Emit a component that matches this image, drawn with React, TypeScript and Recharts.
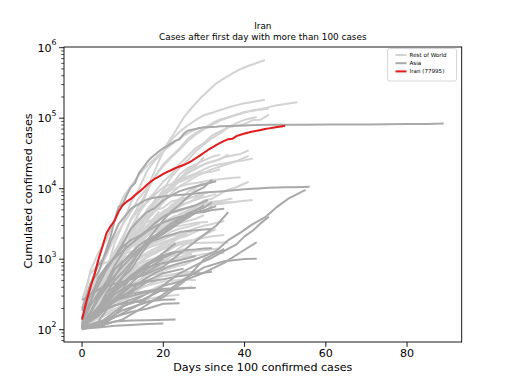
import React from 'react';
import { LineChart, Line, XAxis, YAxis } from 'recharts';

type Pt = [number, number];

// ---------- Rest of World ----------
const unitedStates: Pt[] = [[0,100],[1,122],[3,217],[5,402],[7,589],[9,1301],[11,2179],[13,3499],[15,6421],[17,13677],[19,25489],[21,43847],[23,65778],[25,101657],[27,140886],[29,188172],[31,243453],[33,311357],[35,366614],[37,432438],[39,496535],[41,555313],[43,607670],[45,667801]];
const italy: Pt[] = [[0,155],[2,322],[4,655],[6,1128],[8,2036],[10,3089],[12,4636],[14,7375],[16,10149],[18,15113],[20,21157],[22,27980],[24,35713],[26,47021],[28,59138],[30,69176],[32,80589],[34,92472],[36,101739],[38,110574],[40,119827],[42,128948],[44,135586],[46,143626],[48,152271],[50,159516],[53,168941]];
const spain: Pt[] = [[0,120],[2,222],[4,400],[6,673],[8,1695],[10,3146],[12,6391],[14,9942],[16,17963],[18,25374],[20,33089],[22,49515],[24,64059],[26,78797],[28,94417],[30,110238],[32,119199],[34,130759],[36,141942],[38,153222],[40,163027],[42,170099],[45,182816]];
const germany: Pt[] = [[0,130],[2,196],[4,482],[6,799],[8,1176],[10,1908],[12,3675],[14,5795],[16,9257],[18,15320],[20,22213],[22,29056],[24,37323],[26,50871],[28,62095],[30,71808],[32,84794],[34,96092],[36,103374],[38,113296],[40,122171],[42,127854],[44,131359],[46,137698]];
const france: Pt[] = [[0,100],[2,191],[4,285],[6,656],[8,1126],[10,1787],[12,2281],[14,4480],[16,6650],[18,9052],[20,12612],[22,16018],[24,22304],[26,29155],[28,37575],[30,44550],[32,56989],[34,65202],[36,74390],[38,78167],[40,83080],[42,93790],[44,95403],[46,112000]];
const unitedKingdom: Pt[] = [[0,116],[2,207],[4,322],[6,459],[8,802],[10,1145],[12,1960],[14,2716],[16,5067],[18,6726],[20,9640],[22,14745],[24,19780],[26,25481],[28,34173],[30,42477],[32,52279],[34,61474],[36,74605],[38,85206],[40,94845],[43,104145]];
const turkey: Pt[] = [[0,191],[2,670],[4,1236],[6,1872],[8,3629],[10,7402],[12,10827],[14,15679],[16,20921],[18,27069],[20,34109],[22,42282],[24,52167],[26,61049],[28,69392],[29,74193]];
const belgium: Pt[] = [[0,109],[3,239],[5,314],[7,559],[9,886],[11,1486],[13,2257],[15,3401],[17,4937],[19,7284],[21,9134],[23,12775],[25,15348],[27,18431],[29,20814],[31,23403],[33,24983],[35,28018],[37,29647],[39,31119],[41,34809]];
const netherlands: Pt[] = [[0,128],[2,265],[4,382],[6,614],[8,804],[10,1135],[12,1705],[14,2460],[16,3631],[18,4764],[20,6412],[22,8603],[24,10866],[26,12595],[28,14788],[30,16727],[32,18926],[34,20682],[36,22294],[38,24571],[41,29214]];
const switzerland: Pt[] = [[0,114],[2,268],[4,337],[6,491],[8,652],[10,1139],[12,2200],[14,2700],[16,4222],[18,6575],[20,8060],[22,9877],[24,12928],[26,14829],[28,16605],[30,18827],[32,21100],[34,22242],[36,23280],[38,24551],[40,25415],[42,26732]];
const canada: Pt[] = [[0,108],[2,193],[4,252],[6,478],[8,800],[10,1277],[12,2091],[14,3251],[16,4757],[18,6280],[20,8527],[22,11284],[24,12978],[26,16563],[28,19141],[30,22059],[32,24299],[34,26163],[36,30808]];
const brazil: Pt[] = [[0,151],[2,200],[4,321],[6,621],[8,1021],[10,1593],[12,2554],[14,3417],[16,4579],[18,6836],[20,9056],[22,11130],[24,15927],[26,19638],[28,22192],[30,25262],[32,28320],[34,30425]];
const russia: Pt[] = [[0,114],[2,199],[4,306],[6,438],[8,658],[10,1036],[12,1534],[14,2337],[16,3548],[18,5389],[20,7497],[22,10131],[24,13584],[26,18328],[28,21102],[30,27938]];
const portugal: Pt[] = [[0,112],[2,245],[4,448],[6,785],[8,1280],[10,2060],[12,3544],[14,5170],[16,6408],[18,8251],[20,10524],[22,11730],[24,12442],[26,13956],[28,15987],[30,16934],[32,17448],[34,18841]];
const austria: Pt[] = [[0,104],[2,182],[4,302],[6,655],[8,1018],[10,1646],[12,2388],[14,3582],[16,4876],[18,7029],[20,8271],[22,9618],[24,10711],[26,11524],[28,12051],[30,12639],[32,13244],[34,13560],[36,14041],[39,14476]];
const sweden: Pt[] = [[0,137],[2,203],[4,326],[6,620],[8,961],[10,1040],[12,1167],[14,1301],[16,1623],[18,1934],[20,2299],[22,2806],[24,3447],[26,4435],[28,5568],[30,6830],[32,7206],[34,8419],[36,9685],[38,10483],[41,12540]];
const ireland: Pt[] = [[0,129],[2,223],[4,366],[6,683],[8,1125],[10,1564],[12,2415],[14,3235],[16,3849],[18,4994],[20,5364],[22,6574],[24,7054],[26,8928],[28,10647],[30,11479],[33,13271]];
const peru: Pt[] = [[0,117],[2,234],[4,318],[6,395],[8,580],[10,852],[12,1065],[14,1414],[16,2281],[18,2954],[20,4342],[22,5897],[24,6848],[26,7519],[28,10303],[30,12491]];
const chile: Pt[] = [[0,155],[2,238],[4,434],[6,632],[8,922],[10,1306],[12,1909],[14,2449],[16,3031],[18,3737],[20,4815],[22,5546],[24,6501],[26,7213],[28,7917],[31,8807]];
const ecuador: Pt[] = [[0,155],[2,199],[4,426],[6,789],[8,1211],[10,1823],[12,2302],[14,3163],[16,3368],[18,3747],[20,4450],[22,5065],[24,7257],[26,7466],[28,7603],[30,8225]];
const poland: Pt[] = [[0,111],[2,177],[4,287],[6,425],[8,749],[10,1051],[12,1638],[14,2215],[16,2554],[18,3383],[20,4102],[22,4848],[24,5575],[26,6356],[28,6934],[30,7582],[33,8379]];
const romania: Pt[] = [[0,184],[2,277],[4,367],[6,576],[8,906],[10,1292],[12,1815],[14,2245],[16,2738],[18,3613],[20,4417],[22,5202],[24,5990],[26,6300],[28,7216],[30,8067]];
const denmark: Pt[] = [[0,264],[2,617],[4,827],[6,898],[8,1057],[10,1225],[12,1460],[14,1877],[16,2200],[18,2577],[20,3107],[22,3573],[24,4369],[26,4875],[28,5597],[30,6191],[32,6511],[34,6681],[37,7242]];
const norway: Pt[] = [[0,108],[2,169],[4,400],[6,598],[8,1090],[10,1256],[12,1552],[14,1877],[16,2385],[18,2866],[20,3369],[22,3845],[24,4284],[26,4665],[28,5208],[30,5550],[32,5865],[34,6086],[36,6314],[38,6525],[40,6740],[42,6937]];
const australia: Pt[] = [[0,107],[2,128],[4,200],[6,297],[8,377],[10,709],[12,1072],[14,1709],[16,2364],[18,3116],[20,3966],[22,4559],[24,4976],[26,5454],[28,5795],[30,6052],[32,6238],[34,6315],[37,6468]];
const czechia: Pt[] = [[0,141],[2,253],[4,383],[6,522],[8,995],[10,1236],[12,1654],[14,2279],[16,2817],[18,3330],[20,3858],[22,4472],[24,4822],[26,5335],[28,5732],[30,5991],[32,6216],[34,6433]];
const mexico: Pt[] = [[0,118],[2,203],[4,316],[6,367],[8,475],[10,717],[12,993],[14,1378],[16,1890],[18,2143],[20,2785],[22,3181],[24,3844],[26,4661],[28,5399],[29,6297]];
const serbia: Pt[] = [[0,103],[2,222],[4,303],[6,457],[8,741],[10,900],[12,1171],[14,1624],[16,2200],[18,2447],[20,2867],[22,3380],[24,4054],[26,4873],[28,5318]];
const dominicanRepublic: Pt[] = [[0,112],[2,245],[4,392],[6,581],[8,901],[10,1284],[12,1488],[14,1828],[16,2111],[18,2620],[20,3167],[22,3614],[24,3755],[26,4335]];
const panama: Pt[] = [[0,109],[2,200],[4,313],[6,443],[8,558],[10,901],[12,1075],[14,1317],[16,1673],[18,1988],[20,2528],[22,2974],[24,3234],[26,3472],[28,3751],[30,4210]];
const belarus: Pt[] = [[0,152],[2,163],[4,304],[6,440],[8,700],[10,861],[12,1066],[14,1981],[16,2919],[19,4779]];
const ukraine: Pt[] = [[0,113],[2,218],[4,356],[6,549],[8,794],[10,1096],[12,1462],[14,1892],[16,2203],[18,2777],[20,3372],[23,4161]];
const finland: Pt[] = [[0,109],[2,210],[4,272],[6,400],[8,521],[10,700],[12,880],[14,1041],[16,1240],[18,1418],[20,1615],[22,1927],[24,2176],[26,2487],[28,2769],[30,2974],[32,3161],[35,3489]];
const colombia: Pt[] = [[0,102],[2,196],[4,306],[6,470],[8,608],[10,798],[12,1065],[14,1267],[16,1485],[18,1780],[20,2054],[22,2473],[24,2709],[26,2852],[29,3233]];
const egypt: Pt[] = [[0,110],[2,150],[4,196],[6,256],[8,294],[10,366],[12,456],[14,576],[16,656],[18,779],[20,985],[22,1173],[24,1450],[26,1699],[28,1939],[30,2190],[33,2673]];
const southAfrica: Pt[] = [[0,116],[2,202],[4,274],[6,554],[8,927],[10,1170],[12,1280],[14,1353],[16,1462],[18,1585],[20,1686],[22,1845],[24,2003],[26,2173],[29,2605]];
const argentina: Pt[] = [[0,128],[2,225],[4,301],[6,502],[8,690],[10,820],[12,1054],[14,1353],[16,1554],[18,1715],[20,1894],[22,2142],[24,2277],[27,2443]];
const greece: Pt[] = [[0,117],[2,228],[4,331],[6,418],[8,495],[10,624],[12,743],[14,892],[16,1061],[18,1212],[20,1415],[22,1613],[24,1735],[26,1832],[28,1884],[30,2011],[32,2114],[35,2207]];
const iceland: Pt[] = [[0,103],[2,134],[4,171],[6,225],[8,330],[10,473],[12,648],[14,890],[16,1086],[18,1220],[20,1417],[22,1562],[24,1616],[26,1675],[28,1701],[30,1711],[33,1720],[36,1727]];
const slovenia: Pt[] = [[0,141],[2,219],[4,253],[6,275],[8,341],[10,414],[12,528],[14,632],[16,756],[18,841],[20,934],[22,997],[24,1059],[26,1091],[28,1124],[30,1188],[32,1212],[35,1220]];
const estonia: Pt[] = [[0,135],[2,205],[4,267],[6,283],[8,326],[10,369],[12,538],[14,679],[16,715],[18,779],[20,961],[22,1097],[24,1185],[26,1258],[28,1309],[30,1342],[34,1434]];
const luxembourg: Pt[] = [[0,140],[2,335],[4,484],[6,798],[8,1099],[10,1453],[12,1831],[14,1988],[16,2319],[18,2487],[20,2729],[22,2843],[24,2970],[26,3115],[28,3281],[31,3373]];
const newZealand: Pt[] = [[0,102],[2,155],[4,205],[6,368],[8,451],[10,589],[12,708],[14,868],[16,950],[18,1039],[20,1160],[22,1239],[25,1401]];
const hungary: Pt[] = [[0,131],[2,187],[4,261],[6,343],[8,447],[10,525],[12,623],[14,744],[16,895],[18,980],[20,1190],[22,1410],[25,1763]];
const croatia: Pt[] = [[0,105],[4,235],[8,495],[12,867],[16,1182],[20,1407],[24,1650],[27,1791]];
const morocco: Pt[] = [[0,115],[4,225],[8,479],[12,708],[16,1120],[20,1448],[24,2024],[26,2564]];
const algeria: Pt[] = [[0,139],[4,302],[8,511],[12,986],[16,1423],[20,1761],[24,2070],[26,2268]];
const cameroon: Pt[] = [[0,113],[5,193],[10,509],[15,730],[20,848],[25,1017]];
const senegal: Pt[] = [[0,105],[5,162],[10,222],[15,265],[20,299],[24,314]];
const ghana: Pt[] = [[0,132],[5,152],[10,214],[15,566],[20,641]];
const nigeria: Pt[] = [[0,111],[4,174],[8,238],[12,288],[16,343],[20,442]];
const costaRica: Pt[] = [[0,113],[5,231],[10,347],[15,483],[20,577],[25,612],[29,642]];
const uruguay: Pt[] = [[0,110],[5,217],[10,338],[15,406],[20,483],[25,517],[28,502]];
const bolivia: Pt[] = [[0,107],[5,157],[10,268],[15,400],[19,520]];
const lithuania: Pt[] = [[0,105],[5,299],[10,537],[15,843],[20,1070],[25,1239],[28,1298]];
const slovakia: Pt[] = [[0,105],[5,204],[10,336],[15,534],[20,715],[25,835],[29,1049]];
const latvia: Pt[] = [[0,111],[5,197],[10,347],[15,458],[20,577],[25,651],[29,675]];
const bosnia: Pt[] = [[0,126],[5,258],[10,459],[15,674],[20,901],[25,1110],[27,1214]];
const moldova: Pt[] = [[0,109],[5,231],[10,505],[15,965],[20,1560],[25,2378]];
const northMacedonia: Pt[] = [[0,114],[5,219],[10,354],[15,555],[20,854],[25,1117],[27,1207]];
const tunisia: Pt[] = [[0,114],[5,312],[10,455],[15,596],[20,685],[23,780]];

// ---------- Asia ----------
const china: Pt[] = [[0,200],[1,290],[2,440],[3,548],[4,643],[5,920],[6,1406],[7,2075],[8,3500],[9,5509],[10,6087],[11,8141],[12,10500],[13,11891],[14,16630],[15,19716],[16,23707],[17,27440],[18,30587],[19,34110],[20,37500],[21,40500],[22,44000],[23,48000],[24,50000],[25,59895],[26,66358],[27,68413],[28,70513],[29,72434],[30,74211],[31,74619],[32,75077],[33,75550],[34,77001],[37,77779],[40,78631],[43,80026],[46,80735],[50,80904],[55,81003],[60,81250],[65,81439],[70,81620],[75,81999],[80,82602],[85,83005],[89,83760]];
const korea: Pt[] = [[0,104],[1,204],[2,433],[3,602],[4,833],[5,977],[6,1261],[7,1766],[8,2337],[9,3150],[10,3736],[11,4335],[12,5186],[13,5621],[14,6088],[15,6593],[16,7041],[17,7314],[18,7478],[20,7755],[22,7979],[24,8162],[26,8320],[28,8565],[30,8799],[32,8961],[34,9137],[36,9332],[38,9583],[40,9786],[42,9976],[44,10156],[46,10284],[48,10384],[50,10450],[52,10512],[54,10564],[56,10635]];
const japan: Pt[] = [[0,105],[3,170],[6,210],[9,274],[12,360],[15,502],[18,639],[21,773],[24,878],[27,963],[30,1101],[33,1307],[36,1866],[39,2384],[42,3139],[45,3906],[48,5530],[51,7370],[55,9600]];
const singapore: Pt[] = [[0,106],[4,117],[9,160],[14,226],[19,385],[24,631],[29,879],[32,1049],[35,1309],[38,1623],[40,2108],[42,2532],[44,3252],[46,4000]];
const hongKong: Pt[] = [[0,105],[5,115],[10,140],[15,208],[20,317],[25,518],[30,765],[35,935],[40,1005],[43,1017]];
const bahrain: Pt[] = [[0,109],[5,110],[10,210],[15,305],[20,419],[25,499],[30,643],[35,887],[40,1361],[43,1740]];
const kuwait: Pt[] = [[0,100],[5,130],[10,189],[15,235],[20,289],[25,479],[30,993],[35,1405]];
const qatar: Pt[] = [[0,262],[5,401],[10,481],[15,590],[20,781],[25,1325],[30,2210],[33,2979],[36,4663]];
const israel: Pt[] = [[0,143],[2,250],[4,427],[6,705],[8,1071],[10,1656],[12,2693],[14,3619],[16,4695],[18,5358],[20,6857],[22,8018],[24,9248],[26,9968],[28,10743],[30,11586],[33,12758]];
const india: Pt[] = [[0,107],[2,137],[4,194],[6,330],[8,499],[10,657],[12,887],[14,1251],[16,1834],[18,2567],[20,3588],[22,4778],[24,5916],[26,7600],[28,9205],[30,10453],[32,13430]];
const pakistan: Pt[] = [[0,187],[2,301],[4,495],[6,776],[8,1063],[10,1495],[12,1865],[14,2118],[16,2547],[18,3277],[20,4004],[22,4601],[24,5038],[26,5374],[28,5837],[31,6919]];
const saudiArabia: Pt[] = [[0,103],[2,171],[4,274],[6,392],[8,562],[10,900],[12,1203],[14,1563],[16,1885],[18,2179],[20,2605],[22,2932],[24,3651],[26,4462],[28,4934],[30,5369],[32,6380]];
const uae: Pt[] = [[0,113],[2,153],[4,198],[6,333],[8,405],[10,570],[12,814],[14,1264],[16,1799],[18,2076],[20,2359],[22,2990],[24,3360],[26,4123],[28,4933],[30,5825]];
const malaysia: Pt[] = [[0,149],[2,238],[4,553],[6,790],[8,1030],[10,1306],[12,1624],[14,2031],[16,2470],[18,2908],[20,3333],[22,3662],[24,3963],[26,4228],[28,4530],[30,4683],[32,4987],[35,5182]];
const indonesia: Pt[] = [[0,117],[2,172],[4,309],[6,450],[8,579],[10,790],[12,1046],[14,1285],[16,1677],[18,1986],[20,2273],[22,2738],[24,3293],[26,3842],[28,4557],[30,4839],[32,5516]];
const philippines: Pt[] = [[0,111],[2,142],[4,202],[6,230],[8,380],[10,552],[12,707],[14,1075],[16,1546],[18,2084],[20,2633],[22,3246],[24,3764],[26,4076],[28,4648],[30,4932],[33,5660]];
const thailand: Pt[] = [[0,114],[2,177],[4,272],[6,411],[8,721],[10,934],[12,1136],[14,1388],[16,1651],[18,1875],[20,2067],[22,2220],[24,2423],[26,2518],[28,2579],[30,2643],[32,2672]];
const iraq: Pt[] = [[0,110],[2,154],[4,192],[6,233],[8,316],[10,382],[12,547],[14,694],[16,820],[18,961],[20,1122],[22,1232],[24,1279],[26,1352],[28,1378],[30,1415],[32,1434]];
const lebanon: Pt[] = [[0,110],[4,157],[8,267],[12,412],[16,479],[20,520],[24,575],[28,619],[32,663]];
const taiwan: Pt[] = [[0,108],[4,169],[8,252],[12,322],[16,355],[20,380],[24,388],[28,395]];
const vietnam: Pt[] = [[0,123],[4,174],[8,222],[12,245],[16,251],[20,265],[23,268]];
const sriLanka: Pt[] = [[0,102],[4,113],[8,151],[12,178],[16,198],[20,233],[24,238]];
const bangladesh: Pt[] = [[0,123],[2,218],[4,330],[6,482],[8,803],[10,1231],[11,1572]];
const afghanistan: Pt[] = [[0,110],[3,174],[6,299],[9,423],[12,521],[15,607],[19,840]];
const armenia: Pt[] = [[0,115],[4,194],[8,372],[12,532],[16,770],[20,881],[24,967],[28,1111]];
const azerbaijan: Pt[] = [[0,122],[4,209],[8,359],[12,584],[16,822],[20,1058],[23,1253]];
const kazakhstan: Pt[] = [[0,100],[4,204],[8,348],[12,531],[16,812],[20,1232],[23,1676]];
const uzbekistan: Pt[] = [[0,104],[4,181],[8,342],[12,582],[16,865],[20,1165]];
const oman: Pt[] = [[0,109],[4,192],[8,277],[12,457],[16,727],[20,1019]];
const jordan: Pt[] = [[0,112],[4,172],[8,259],[12,299],[16,345],[20,358],[24,381],[27,397]];
const cyprus: Pt[] = [[0,116],[4,162],[8,262],[12,426],[16,494],[20,633],[25,735]];
const brunei: Pt[] = [[0,104],[4,115],[8,131],[12,135],[16,136],[23,140]];
const cambodia: Pt[] = [[0,103],[4,107],[8,114],[12,117],[16,120],[20,122]];
const kyrgyzstan: Pt[] = [[0,107],[4,130],[8,280],[12,339],[17,516]];
const georgia: Pt[] = [[0,110],[5,188],[10,242],[15,306]];
const palestine: Pt[] = [[0,104],[5,134],[10,217],[15,268],[20,374]];

// ---------- Iran ----------
const iran: Pt[] = [[0,139],[1,245],[2,388],[3,593],[4,978],[5,1501],[6,2336],[7,2922],[8,3513],[9,4747],[10,5823],[11,6566],[12,7161],[13,8042],[14,9000],[15,10075],[16,11364],[17,12729],[18,13938],[19,14991],[20,16169],[21,17361],[22,18407],[23,19644],[24,20610],[25,21638],[26,23049],[27,24811],[28,27017],[29,29406],[30,32332],[31,35408],[32,38309],[33,41495],[34,44605],[35,47593],[36,50468],[37,50900],[38,55743],[39,58226],[40,60500],[41,62589],[42,64586],[43,66220],[44,68192],[45,70029],[46,71686],[47,73303],[48,74877],[49,76389],[50,77995]];

const restOfWorld: Pt[][] = [unitedStates, italy, spain, germany, france, unitedKingdom, turkey, belgium, netherlands, switzerland, canada, brazil, russia, portugal, austria, sweden, ireland, peru, chile, ecuador, poland, romania, denmark, norway, australia, czechia, mexico, serbia, dominicanRepublic, panama, belarus, ukraine, finland, colombia, egypt, southAfrica, argentina, greece, iceland, slovenia, estonia, luxembourg, newZealand, hungary, croatia, morocco, algeria, cameroon, senegal, ghana, nigeria, costaRica, uruguay, bolivia, lithuania, slovakia, latvia, bosnia, moldova, northMacedonia, tunisia];
const asia: Pt[][] = [china, korea, japan, singapore, hongKong, bahrain, kuwait, qatar, israel, india, pakistan, saudiArabia, uae, malaysia, indonesia, philippines, thailand, iraq, lebanon, taiwan, vietnam, sriLanka, bangladesh, afghanistan, armenia, azerbaijan, kazakhstan, uzbekistan, oman, jordan, cyprus, brunei, cambodia, kyrgyzstan, georgia, palestine];

const legendLabels = ['Rest of World', 'Asia', 'Iran (77995)'];
const titleLines = ['Iran', 'Cases after first day with more than 100 cases'];
const xTicks = [0, 20, 40, 60, 80];
const yMajor = [100, 1000, 10000, 100000, 1000000];
const yMinor = [70, 80, 90, 200, 300, 400, 500, 600, 700, 800, 900, 2000, 3000, 4000, 5000, 6000, 7000, 8000, 9000, 20000, 30000, 40000, 50000, 60000, 70000, 80000, 90000, 200000, 300000, 400000, 500000, 600000, 700000, 800000, 900000];

const ROW_COLOR = '#d3d3d3';
const ASIA_COLOR = '#a9a9a9';
const IRAN_COLOR = '#e41a1c';
const FONT = 'DejaVu Sans, sans-serif';

const toRows = (pts: Pt[]) => pts.map(([d, v]) => ({ d, v }));

const majorSet = new Set(yMajor);

const renderYTick = (props: any) => {
  const { x, y, payload } = props;
  const v = payload.value;
  const major = majorSet.has(v);
  const exp = Math.round(Math.log10(v));
  return (
    <g key={'yt' + v}>
      <line x1={x - (major ? 4.9 : 2.8)} x2={x} y1={y} y2={y} stroke="#000" strokeWidth={major ? 0.9 : 0.7} />
      {major && (
        <text x={x - 7.5} y={y + 4} textAnchor="end" fontSize={11.1} fontFamily={FONT} fill="#000">
          10<tspan dy={-6.5} fontSize={7.8}>{exp}</tspan>
        </text>
      )}
    </g>
  );
};

const renderXTick = (props: any) => {
  const { x, y, payload } = props;
  return (
    <g key={'xt' + payload.value}>
      <line x1={x} x2={x} y1={y} y2={y + 4.9} stroke="#000" strokeWidth={0.9} />
      <text x={x} y={y + 15} textAnchor="middle" fontSize={11.1} fontFamily={FONT} fill="#000">{payload.value}</text>
    </g>
  );
};

const PLOT = { left: 64, top: 47, right: 461.7, bottom: 342 };
const Y_AXIS_W = 60;
const X_AXIS_H = 30;

export default function App() {
  const w = 512, h = 384;
  return (
    <div style={{ position: 'absolute', left: 0, top: 0, width: w, height: h, background: '#fff' }}>
      <LineChart
        width={w}
        height={h}
        margin={{ top: PLOT.top, left: PLOT.left - Y_AXIS_W, right: w - PLOT.right, bottom: h - PLOT.bottom - X_AXIS_H }}
      >
        <XAxis
          type="number"
          dataKey="d"
          domain={[-4.45, 93.45]}
          allowDataOverflow
          ticks={xTicks}
          interval={0}
          height={X_AXIS_H}
          tickSize={0}
          tickMargin={0}
          axisLine={false}
          tickLine={false}
          tick={renderXTick}
        />
        <YAxis
          type="number"
          dataKey="v"
          scale="log"
          domain={[66.9, 1023000]}
          allowDataOverflow
          ticks={[...yMinor, ...yMajor].sort((a, b) => a - b)}
          interval={0}
          width={Y_AXIS_W}
          tickSize={0}
          tickMargin={0}
          axisLine={false}
          tickLine={false}
          tick={renderYTick}
        />
        {restOfWorld.map((s, i) => (
          <Line key={'r' + i} data={toRows(s)} dataKey="v" type="linear" stroke={ROW_COLOR} strokeWidth={2} dot={false} activeDot={false} isAnimationActive={false} strokeLinejoin="round" />
        ))}
        {asia.map((s, i) => (
          <Line key={'a' + i} data={toRows(s)} dataKey="v" type="linear" stroke={ASIA_COLOR} strokeWidth={2} dot={false} activeDot={false} isAnimationActive={false} strokeLinejoin="round" />
        ))}
        <Line key="iran" data={toRows(iran)} dataKey="v" type="linear" stroke={IRAN_COLOR} strokeWidth={2} dot={false} activeDot={false} isAnimationActive={false} strokeLinejoin="round" />
      </LineChart>
      <svg width={w} height={h} style={{ position: 'absolute', left: 0, top: 0, pointerEvents: 'none' }}>
        <rect x={PLOT.left} y={PLOT.top} width={PLOT.right - PLOT.left} height={PLOT.bottom - PLOT.top} fill="none" stroke="#000" strokeWidth={0.9} />
        <text x={262.8} y={29.3} textAnchor="middle" fontSize={8.9} fontFamily={FONT}>{titleLines[0]}</text>
        <text x={262.8} y={39.5} textAnchor="middle" fontSize={8.9} fontFamily={FONT}>{titleLines[1]}</text>
        <text x={262.8} y={371} textAnchor="middle" fontSize={11.1} fontFamily={FONT}>Days since 100 confirmed cases</text>
        <text transform="translate(32,191) rotate(-90)" textAnchor="middle" fontSize={11.1} fontFamily={FONT}>Cumulated confirmed cases</text>
        <rect x={387.5} y={48.5} width={69} height={32.5} rx={2} fill="#fff" fillOpacity={0.8} stroke="#cccccc" strokeWidth={0.8} />
        {[ROW_COLOR, ASIA_COLOR, IRAN_COLOR].map((c, i) => (
          <g key={i}>
            <line x1={395.5} x2={406.5} y1={55 + i * 8.2} y2={55 + i * 8.2} stroke={c} strokeWidth={2} />
            <text x={409.5} y={57 + i * 8.2} fontSize={5.6} fontFamily={FONT}>{legendLabels[i]}</text>
          </g>
        ))}
      </svg>
    </div>
  );
}
